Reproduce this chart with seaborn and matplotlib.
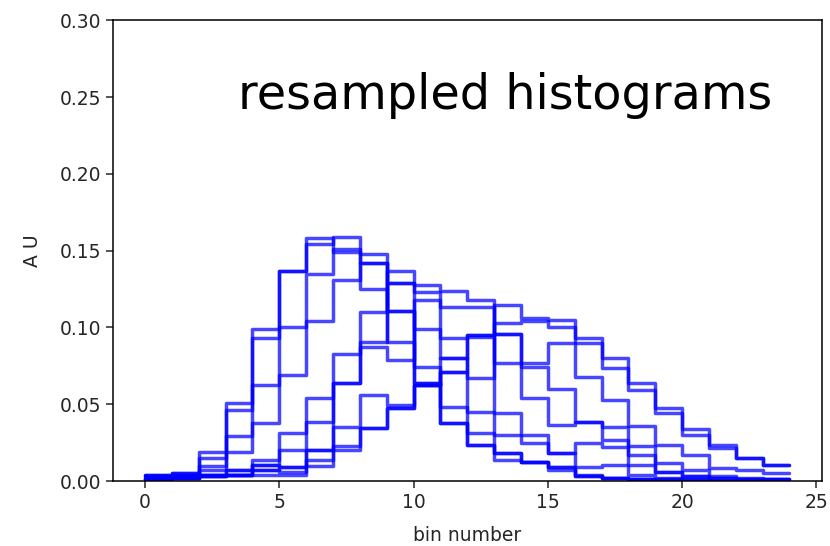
import numpy as np
import pandas as pd
import matplotlib
matplotlib.use("Agg")
import matplotlib.pyplot as plt
import seaborn as sns

# bin contents (24 bins, edges 0..24) for each resampled histogram
early_1 = [0.004, 0.005, 0.019, 0.051, 0.099, 0.137, 0.158, 0.149, 0.125, 0.0907, 0.0636, 0.048,
           0.031, 0.018, 0.0126, 0.009, 0.004, 0.002, 0.001, 0.001, 0.001, 0.0, 0.0, 0.0]
early_2 = [0.004, 0.005, 0.015, 0.046, 0.093, 0.137, 0.154, 0.159, 0.148, 0.111, 0.074, 0.0375,
           0.0234, 0.014, 0.0126, 0.009, 0.003, 0.002, 0.001, 0.001, 0.0, 0.0, 0.0, 0.0]
early_3 = [0.003, 0.004, 0.010, 0.029, 0.0625, 0.100, 0.135, 0.151, 0.142, 0.111, 0.0636, 0.0375,
           0.0234, 0.018, 0.0126, 0.007, 0.003, 0.002, 0.001, 0.0, 0.0, 0.0, 0.0, 0.0]
inter_1 = [0.003, 0.004, 0.007, 0.019, 0.0375, 0.069, 0.104, 0.131, 0.142, 0.1286, 0.099, 0.080,
           0.045, 0.030, 0.0245, 0.018, 0.0093, 0.0104, 0.004, 0.002, 0.001, 0.0, 0.0, 0.0]
middle_1 = [0.002, 0.003, 0.004, 0.007, 0.0137, 0.031, 0.054, 0.083, 0.110, 0.137, 0.1275, 0.124,
            0.118, 0.096, 0.0744, 0.060, 0.0386, 0.0353, 0.023, 0.0115, 0.007, 0.003, 0.002, 0.001]
middle_2 = [0.001, 0.002, 0.004, 0.004, 0.0104, 0.020, 0.0386, 0.0636, 0.0907, 0.1286, 0.123, 0.113,
            0.113, 0.0766, 0.054, 0.0364, 0.0386, 0.0267, 0.017, 0.006, 0.003, 0.002, 0.001, 0.001]
middle_3 = [0.001, 0.002, 0.003, 0.004, 0.007, 0.0093, 0.020, 0.0636, 0.0874, 0.0787, 0.118, 0.093,
            0.094, 0.044, 0.030, 0.018, 0.0245, 0.0223, 0.0104, 0.006, 0.003, 0.002, 0.001, 0.001]
late_1 = [0.002, 0.003, 0.004, 0.007, 0.0104, 0.0093, 0.020, 0.035, 0.056, 0.0495, 0.0625, 0.080,
          0.095, 0.1145, 0.1059, 0.1048, 0.0928, 0.0798, 0.0636, 0.0473, 0.034, 0.0234, 0.0148, 0.0104]
late_2 = [0.001, 0.002, 0.003, 0.004, 0.007, 0.006, 0.0137, 0.023, 0.0343, 0.0473, 0.0625, 0.0711,
          0.095, 0.1026, 0.104, 0.1004, 0.0896, 0.0733, 0.059, 0.044, 0.030, 0.0215, 0.0148, 0.0104]
late_3 = [0.001, 0.002, 0.003, 0.004, 0.004, 0.004, 0.010, 0.020, 0.0343, 0.0473, 0.0625, 0.0711,
          0.0668, 0.096, 0.0766, 0.0896, 0.0679, 0.0527, 0.036, 0.0234, 0.017, 0.0085, 0.007, 0.005]

histograms = [early_1, early_2, early_3, inter_1, middle_1, middle_2, middle_3,
              late_1, late_2, late_3]

bin_edges = np.arange(25)

# long-form table: each histogram as a step curve over the bin edges
rows = []
for k, h in enumerate(histograms):
    vals = list(h) + [h[-1]]
    for e, v in zip(bin_edges, vals):
        rows.append({"sample": k, "bin": e, "value": v})
df = pd.DataFrame(rows)

sns.set_theme(style="ticks")
plt.rcParams["font.family"] = ["DejaVu Sans"]

fig = plt.figure(figsize=(8.3, 5.46), dpi=100)
ax = fig.add_axes([0.136, 0.119, 0.854, 0.844])

sns.lineplot(data=df, x="bin", y="value", units="sample", estimator=None,
             color="#0000ff", alpha=0.72, lw=2.5, drawstyle="steps-post",
             legend=False, ax=ax)

ax.set_xlim(-1.2, 25.2)
ax.set_ylim(0, 0.30)
ax.set_xticks([0, 5, 10, 15, 20, 25])
ax.set_yticks([0.0, 0.05, 0.10, 0.15, 0.20, 0.25, 0.30])
ax.set_yticklabels([f"{t:.2f}" for t in ax.get_yticks()])

ax.set_xlabel("bin number", fontsize=13.5, color="#262626", labelpad=10)
ax.set_ylabel("A U", fontsize=13.5, color="#262626", labelpad=13)
ax.tick_params(axis="both", labelsize=13.5, length=5, width=1.1,
               colors="#262626", direction="out")
for s in ax.spines.values():
    s.set_visible(True)
    s.set_color("black")
    s.set_linewidth(1.1)

ax.text(3.45, 0.242, "resampled histograms", fontsize=34.4, color="black",
        ha="left", va="baseline")

fig.savefig("out.png", dpi=100, facecolor="white")
